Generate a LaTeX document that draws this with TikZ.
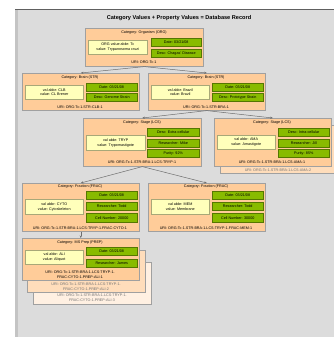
\documentclass[tikz,border=0pt]{standalone}
\usepackage{fontspec}
\setmainfont{Liberation Sans}
\usetikzlibrary{arrows.meta}
\definecolor{bgc}{HTML}{DCDCDC}
\definecolor{bgline}{HTML}{606060}
\definecolor{bgside}{HTML}{C4C4C4}
\definecolor{peach}{HTML}{FFCC99}
\definecolor{peachB}{HTML}{FFDDBB}
\definecolor{peachC}{HTML}{FFF0E2}
\definecolor{boxline}{HTML}{A0A0A0}
\definecolor{yfill}{HTML}{FFFFBB}
\definecolor{yline}{HTML}{A8A878}
\definecolor{gfill}{HTML}{88BB00}
\definecolor{gline}{HTML}{557700}
\definecolor{arrc}{HTML}{6E6E6E}
\tikzset{
  small/.style={font=\fontsize{3.7}{4.6}\selectfont},
  catbox/.style={draw=boxline, line width=0.6pt, fill=peach, inner sep=0, anchor=north west, minimum width=117},
  backbox/.style={catbox, fill=peachB},
  backboxc/.style={catbox, fill=peachC},
  lbl/.style={small, inner sep=0, align=center},
  faint/.style={lbl, text=black!55},
  ybox/.style={small, draw=yline, line width=0.5pt, fill=yfill, inner sep=0, anchor=north west, align=center, minimum width=58, minimum height=14},
  gbox/.style={small, draw=gline, line width=0.5pt, fill=gfill, inner sep=0, anchor=north west, minimum width=51, minimum height=8},
  arr/.style={draw=arrc, line width=0.5pt, -{Stealth[length=2.6pt,width=2.2pt]}}
}
\begin{document}
\begin{tikzpicture}[x=1pt,y=-1pt]
\useasboundingbox (0,0) rectangle (333,337);
\fill[white] (0,0) rectangle (333,337);
\fill[bgc] (15,9) rectangle (340,345);
\fill[bgside] (15,9) rectangle (17.5,345);
\draw[bgline, line width=1.1pt] (15,9.5) -- (340,9.5);
\node[inner sep=0, font=\bfseries\fontsize{5.6}{6.5}\selectfont] (title) at (179,18) {Category Values + Property Values = Database Record};

% Organism
\node[catbox, minimum width=118, minimum height=38] (org) at (85,28) {};
\node[lbl] (orgT) at (144,33) {Category: Organism (ORG)};
\node[ybox, minimum width=59] (orgV) at (88,40) {ORG value abbr: Tc\\value: Trypanosoma cruzi};
\node[gbox, minimum width=50] (orgD) at (151,38) {Date: 03/21/08};
\node[gbox, minimum width=50] (orgS) at (151,49) {Desc: Chagas' Disease};
\node[lbl] (orgU) at (144,62) {URI: ORG-Tc-1};

% Brain left
\node[catbox, minimum height=37] (brl) at (22,73) {};
\node[lbl] (brlT) at (80,78) {Category: Brain (STR)};
\node[ybox] (brlV) at (25,85) {val abbr: CLB\\value: CL Brener};
\node[gbox] (brlD) at (86,83) {Date: 03/21/08};
\node[gbox] (brlS) at (86,93) {Desc: Genome Strain};
\node[lbl] (brlU) at (80,107) {URI: ORG-Tc-1.STR-CLB-1};

% Brain right
\node[catbox, minimum height=37] (brr) at (148,73) {};
\node[lbl] (brrT) at (206,78) {Category: Brain (STR)};
\node[ybox] (brrV) at (151,85) {val abbr: Brazil\\value: Brazil};
\node[gbox] (brrD) at (212,83) {Date: 03/21/08};
\node[gbox] (brrS) at (212,93) {Desc: Prototype Strain};
\node[lbl] (brrU) at (206,107) {URI: ORG-Tc-1.STR-BRA-1};

% Stage left
\node[catbox, minimum width=118, minimum height=48] (stl) at (83,118) {};
\node[lbl] (stlT) at (142,123) {Category: Stage (LCS)};
\node[ybox, minimum width=59, minimum height=15] (stlV) at (86,135) {val abbr: TRYP\\value: Trypomastigote};
\node[gbox, minimum width=52] (stlA) at (147,128) {Desc: Extra-cellular};
\node[gbox, minimum width=52] (stlB) at (147,138.5) {Researcher: Mike};
\node[gbox, minimum width=52] (stlC) at (147,149) {Purity: 92\%};
\node[lbl] (stlU) at (142,162) {URI: ORG-Tc-1.STR-BRA-1.LCS-TRYP-1};

% Stage right (with one stacked record behind)
\node[backbox, minimum height=48] (strb) at (220,125) {};
\node[faint] (strbU) at (278,170) {URI: ORG-Tc-1.STR-BRA-1.LCS-AMA-2};
\node[catbox, minimum height=48] (str) at (214,118) {};
\node[lbl] (strT) at (272,123) {Category: Stage (LCS)};
\node[ybox] (strV) at (217,135) {val abbr: AMA\\value: Amastigote};
\node[gbox] (strA) at (278,128) {Desc: Intra-cellular};
\node[gbox] (strB) at (278,138.5) {Researcher: Jill};
\node[gbox] (strC) at (278,149) {Purity: 85\%};
\node[lbl] (strU) at (272,162) {URI: ORG-Tc-1.STR-BRA-1.LCS-AMA-1};

% Fraction left
\node[catbox, minimum height=48] (frl) at (22,183) {};
\node[lbl] (frlT) at (80,187) {Category: Fraction (FRAC)};
\node[ybox, minimum height=15] (frlV) at (25,199) {val abbr: CYTO\\value: Cytoskeleton};
\node[gbox] (frlA) at (86,191) {Date: 03/21/08};
\node[gbox] (frlB) at (86,202) {Researcher: Todd};
\node[gbox, minimum height=9] (frlC) at (86,213) {Cell Number: 20000};
\node[lbl] (frlU) at (80,228) {URI: ORG-Tc-1.STR-BRA-1.LCS-TRYP-1.FRAC-CYTO-1};

% Fraction right
\node[catbox, minimum height=48] (frr) at (148,183) {};
\node[lbl] (frrT) at (206,187) {Category: Fraction (FRAC)};
\node[ybox, minimum height=15] (frrV) at (151,199) {val abbr: MEM\\value: Membrane};
\node[gbox] (frrA) at (212,191) {Date: 03/21/08};
\node[gbox] (frrB) at (212,202) {Researcher: Todd};
\node[gbox, minimum height=9] (frrC) at (212,213) {Cell Number: 30000};
\node[lbl] (frrU) at (206,228) {URI: ORG-Tc-1.STR-BRA-1.LCS-TRYP-1.FRAC-MEM-1};

% MS Prep (with two stacked records behind)
\node[backboxc, minimum width=118, minimum height=42] (prepc) at (33,262) {};
\node[faint] (prepcU) at (92,298) {URI: ORG-Tc-1.STR-BRA-1.LCS-TRYP-1.\\FRAC-CYTO-1.PREP-ALI-3};
\node[backbox, minimum width=118, minimum height=42] (prepb) at (27,250) {};
\node[faint] (prepbU) at (86,286.5) {URI: ORG-Tc-1.STR-BRA-1.LCS-TRYP-1.\\FRAC-CYTO-1.PREP-ALI-2};
\node[catbox, minimum height=42] (prep) at (22,238) {};
\node[lbl] (prepT) at (80,243) {Category: MS Prep (PREP)};
\node[ybox] (prepV) at (25,250) {val abbr: ALI\\value: Aliquot};
\node[gbox] (prepA) at (86,247) {Date: 03/21/08};
\node[gbox] (prepB) at (86,259) {Researcher: James};
\node[lbl] (prepU) at (80,274.5) {URI: ORG-Tc-1.STR-BRA-1.LCS-TRYP-1.\\FRAC-CYTO-1.PREP-ALI-1};

% connectors
\draw[arr] (org.south) -- (brl.north);
\draw[arr] (org.south) -- (brr.north);
\draw[arr] (brr.south) -- (stl.north);
\draw[arr] (brr.south) -- (str.north);
\draw[arr] (stl.south) -- (frl.north);
\draw[arr] (stl.south) -- (frr.north);
\draw[arr] (frl.south) -- (prep.north);
\end{tikzpicture}
\end{document}
